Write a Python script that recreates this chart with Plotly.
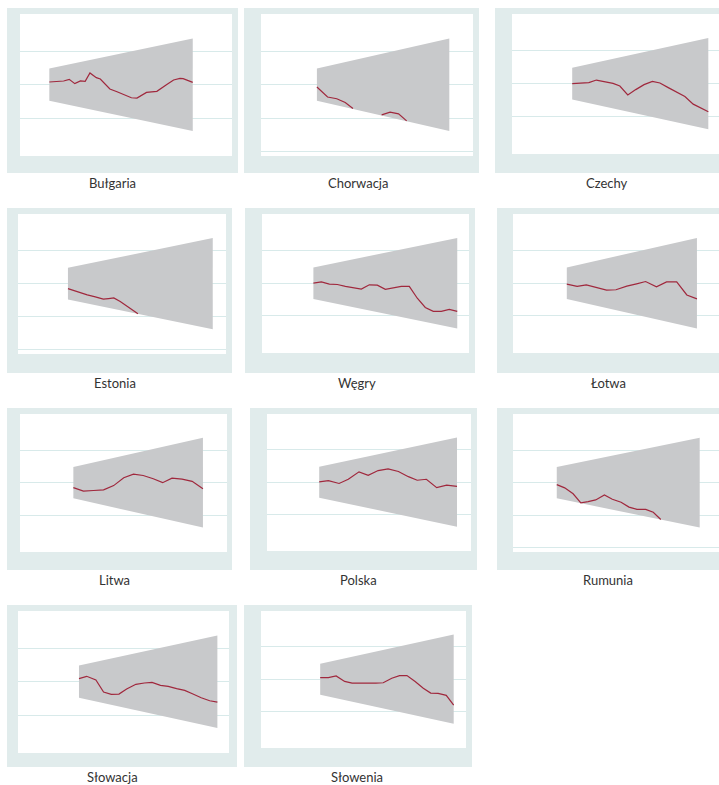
import plotly.graph_objects as go

W, H = 719, 785

# ---------------- data ----------------
countries = ["Bułgaria", "Chorwacja", "Czechy", "Estonia", "Węgry", "Łotwa",
             "Litwa", "Polska", "Rumunia", "Słowacja", "Słowenia"]

# fan (band) bounds at start and end of the horizon
fan_t = [0, 18]
fan_lower = [-0.48, -1.38]
fan_upper = [0.48, 1.38]

bg_t = [0, 1.8, 2.5, 3.2, 3.9, 4.5, 5.1, 5.9, 6.4, 7.6, 8.5, 10.3, 11.0, 12.2, 13.5, 14.3, 14.7, 15.6, 16.4, 16.8, 18]
bg_v = [0.08, 0.11, 0.16, 0.03, 0.11, 0.10, 0.35, 0.21, 0.17, -0.13, -0.21, -0.39, -0.40, -0.23, -0.20, -0.05, 0.0, 0.14, 0.19, 0.18, 0.07]

hr_t = [0, 1.45, 2.7, 3.85, 4.9, 6.5, 8.8, 9.95, 11.1, 12.2]
hr_v = [-0.07, -0.37, -0.42, -0.53, -0.71, None, -0.90, -0.82, -0.87, -1.08]

cz_t = [0, 2.2, 3.2, 4.4, 5.4, 6.3, 7.35, 8.4, 9.5, 10.6, 11.6, 12.7, 13.8, 14.9, 16.0, 18]
cz_v = [0.0, 0.03, 0.11, 0.05, 0.01, -0.07, -0.34, -0.18, -0.03, 0.07, 0.02, -0.12, -0.26, -0.39, -0.62, -0.85]

ee_t = [0, 1.1, 2.4, 3.4, 4.4, 5.05, 5.7, 6.5, 7.3, 8.7]
ee_v = [-0.15, -0.24, -0.34, -0.40, -0.47, -0.45, -0.43, -0.54, -0.68, -0.91]

hu_t = list(range(19))
hu_v = [0.0, 0.04, -0.03, -0.04, -0.10, -0.15, -0.18, -0.05, -0.06, -0.19, -0.15, -0.10, -0.10, -0.46, -0.74, -0.86, -0.86, -0.80, -0.86]

lv_t = [0, 1.43, 2.7, 4.1, 5.5, 6.8, 8.3, 9.65, 10.9, 12.4, 13.8, 15.2, 16.6, 18]
lv_v = [-0.03, -0.10, -0.05, -0.12, -0.21, -0.20, -0.09, -0.02, 0.05, -0.11, 0.04, 0.04, -0.36, -0.48]

lt_t = [0, 1.4, 2.8, 4.2, 5.6, 7.0, 8.35, 9.7, 11.1, 12.4, 13.7, 15.1, 16.5, 18]
lt_v = [-0.15, -0.26, -0.24, -0.22, -0.09, 0.15, 0.26, 0.22, 0.12, 0.0, 0.14, 0.11, 0.04, -0.19]

pl_t = [0, 1.2, 2.6, 3.8, 5.2, 6.4, 7.7, 9.0, 10.35, 11.65, 12.8, 14.0, 15.35, 16.65, 18]
pl_v = [0.01, 0.05, -0.04, 0.09, 0.32, 0.21, 0.36, 0.41, 0.33, 0.17, 0.06, 0.09, -0.17, -0.09, -0.13]

ro_t = [0, 1.0, 2.06, 3.03, 3.95, 4.9, 6.0, 7.0, 8.1, 9.1, 10.1, 11.2, 12.15, 13.1]
ro_v = [-0.06, -0.16, -0.34, -0.62, -0.58, -0.53, -0.38, -0.51, -0.60, -0.75, -0.82, -0.82, -0.91, -1.13]

sk_t = [0, 1.0, 2.2, 3.2, 4.2, 5.2, 6.2, 7.4, 8.5, 9.5, 10.6, 11.6, 12.7, 13.75, 14.75, 15.9, 17.0, 18]
sk_v = [0.09, 0.16, 0.05, -0.31, -0.38, -0.37, -0.22, -0.08, -0.04, -0.02, -0.11, -0.14, -0.21, -0.26, -0.36, -0.48, -0.57, -0.61]

si_t = [0, 1.1, 2.15, 3.3, 4.3, 5.4, 6.5, 7.5, 8.5, 9.65, 10.7, 11.7, 12.8, 13.9, 14.9, 15.9, 17.0, 18]
si_v = [0.05, 0.05, 0.10, -0.07, -0.12, -0.12, -0.14, -0.12, -0.11, 0.03, 0.11, 0.11, -0.07, -0.28, -0.43, -0.44, -0.50, -0.80]

series_t = [bg_t, hr_t, cz_t, ee_t, hu_t, lv_t, lt_t, pl_t, ro_t, sk_t, si_t]
series_v = [bg_v, hr_v, cz_v, ee_v, hu_v, lv_v, lt_v, pl_v, ro_v, sk_v, si_v]

# ---------------- layout (pixel boxes) ----------------
# frame box (x0, y0, x1, y1), white plot box (x0, y0, x1, y1), x-range, gridlines, label centre
panels = [
    dict(frame=(7, 8, 238, 173), plot=(20, 14, 232, 156), xr=(-3.68, 22.93), grid=[-1, 0, 1], label=(113, 183)),
    dict(frame=(244, 8, 479, 173), plot=(261, 14, 473, 156), xr=(-7.60, 21.22), grid=[-2, -1, 0, 1], label=(358, 183)),
    dict(frame=(495, 8, 740, 173), plot=(512, 14, 719, 154), xr=(-7.96, 19.41), grid=[-1, 0, 1], label=(607, 183)),
    dict(frame=(7, 208, 232, 373), plot=(18, 214, 226, 354), xr=(-6.21, 19.65), grid=[-2, -1, 0, 1], label=(115, 383)),
    dict(frame=(245, 208, 475, 373), plot=(262, 214, 469, 353), xr=(-6.43, 19.47), grid=[-1, 0, 1], label=(357, 383)),
    dict(frame=(497, 208, 740, 373), plot=(513, 214, 719, 353), xr=(-7.44, 21.05), grid=[-1, 0, 1], label=(608, 383)),
    dict(frame=(7, 408, 232, 570), plot=(20, 414, 227, 552), xr=(-7.41, 21.34), grid=[-1, 0, 1], label=(114, 580)),
    dict(frame=(250, 408, 477, 570), plot=(267, 414, 471, 551), xr=(-6.82, 19.83), grid=[-1, 0, 1], label=(358, 580)),
    dict(frame=(497, 408, 740, 570), plot=(513, 414, 719, 552), xr=(-5.51, 20.43), grid=[-2, -1, 0, 1], label=(608, 580)),
    dict(frame=(7, 605, 237, 767), plot=(18, 611, 229, 753), xr=(-7.93, 19.51), grid=[-1, 0, 1], label=(113, 777)),
    dict(frame=(244, 605, 472, 767), plot=(261, 611, 466, 748), xr=(-7.98, 19.66), grid=[-1, 0, 1], label=(357, 777)),
]
YR = (-2.13, 2.11)

FRAME_COL = "#e1ecec"
GRID_COL = "#d8eaea"
FAN_COL = "#c8c9cb"
LINE_COL = "#a0283d"


def px(x):
    return x / W


def py(y):
    return 1 - y / H


fig = go.Figure()
shapes = []
annotations = []
layout_axes = {}

for i, (name, p) in enumerate(zip(countries, panels)):
    n = i + 1
    xa = "x" if n == 1 else f"x{n}"
    ya = "y" if n == 1 else f"y{n}"
    fx0, fy0, fx1, fy1 = p["frame"]
    wx0, wy0, wx1, wy1 = p["plot"]
    shapes.append(dict(type="rect", xref="paper", yref="paper", layer="below",
                       x0=px(fx0), x1=px(fx1), y0=py(fy1), y1=py(fy0),
                       fillcolor=FRAME_COL, line=dict(width=0)))
    shapes.append(dict(type="rect", xref="paper", yref="paper", layer="below",
                       x0=px(wx0), x1=px(wx1), y0=py(wy1), y1=py(wy0),
                       fillcolor="white", line=dict(width=0)))

    # fan polygon
    fig.add_trace(go.Scatter(
        x=[fan_t[0], fan_t[1], fan_t[1], fan_t[0], fan_t[0]],
        y=[fan_lower[0], fan_lower[1], fan_upper[1], fan_upper[0], fan_lower[0]],
        fill="toself", fillcolor=FAN_COL, mode="lines", line=dict(width=0, color=FAN_COL),
        xaxis=xa, yaxis=ya, showlegend=False, hoverinfo="skip"))
    # line
    fig.add_trace(go.Scatter(
        x=series_t[i], y=series_v[i], mode="lines",
        line=dict(color=LINE_COL, width=1.2), connectgaps=False,
        xaxis=xa, yaxis=ya, showlegend=False, name=name))

    key_x = "xaxis" if n == 1 else f"xaxis{n}"
    key_y = "yaxis" if n == 1 else f"yaxis{n}"
    layout_axes[key_x] = dict(domain=[px(wx0), min(px(wx1), 1.0)], range=list(p["xr"]),
                              showgrid=False, zeroline=False, showticklabels=False,
                              ticks="", showline=False, anchor=ya, fixedrange=True)
    layout_axes[key_y] = dict(domain=[py(wy1), py(wy0)], range=list(YR),
                              tickvals=p["grid"], showgrid=True, gridcolor=GRID_COL, gridwidth=1,
                              zeroline=False, showticklabels=False, ticks="", showline=False,
                              anchor=xa, fixedrange=True)

    annotations.append(dict(text=name, xref="paper", yref="paper",
                            x=px(p["label"][0]), y=py(p["label"][1]),
                            xanchor="center", yanchor="middle", showarrow=False,
                            font=dict(family="Lato, Open Sans, sans-serif", size=13, color="#333333")))

fig.update_layout(
    width=W, height=H,
    margin=dict(l=0, r=0, t=0, b=0),
    paper_bgcolor="white", plot_bgcolor="rgba(0,0,0,0)",
    shapes=shapes, annotations=annotations,
    showlegend=False,
    **layout_axes,
)

fig.write_html("out.html")
